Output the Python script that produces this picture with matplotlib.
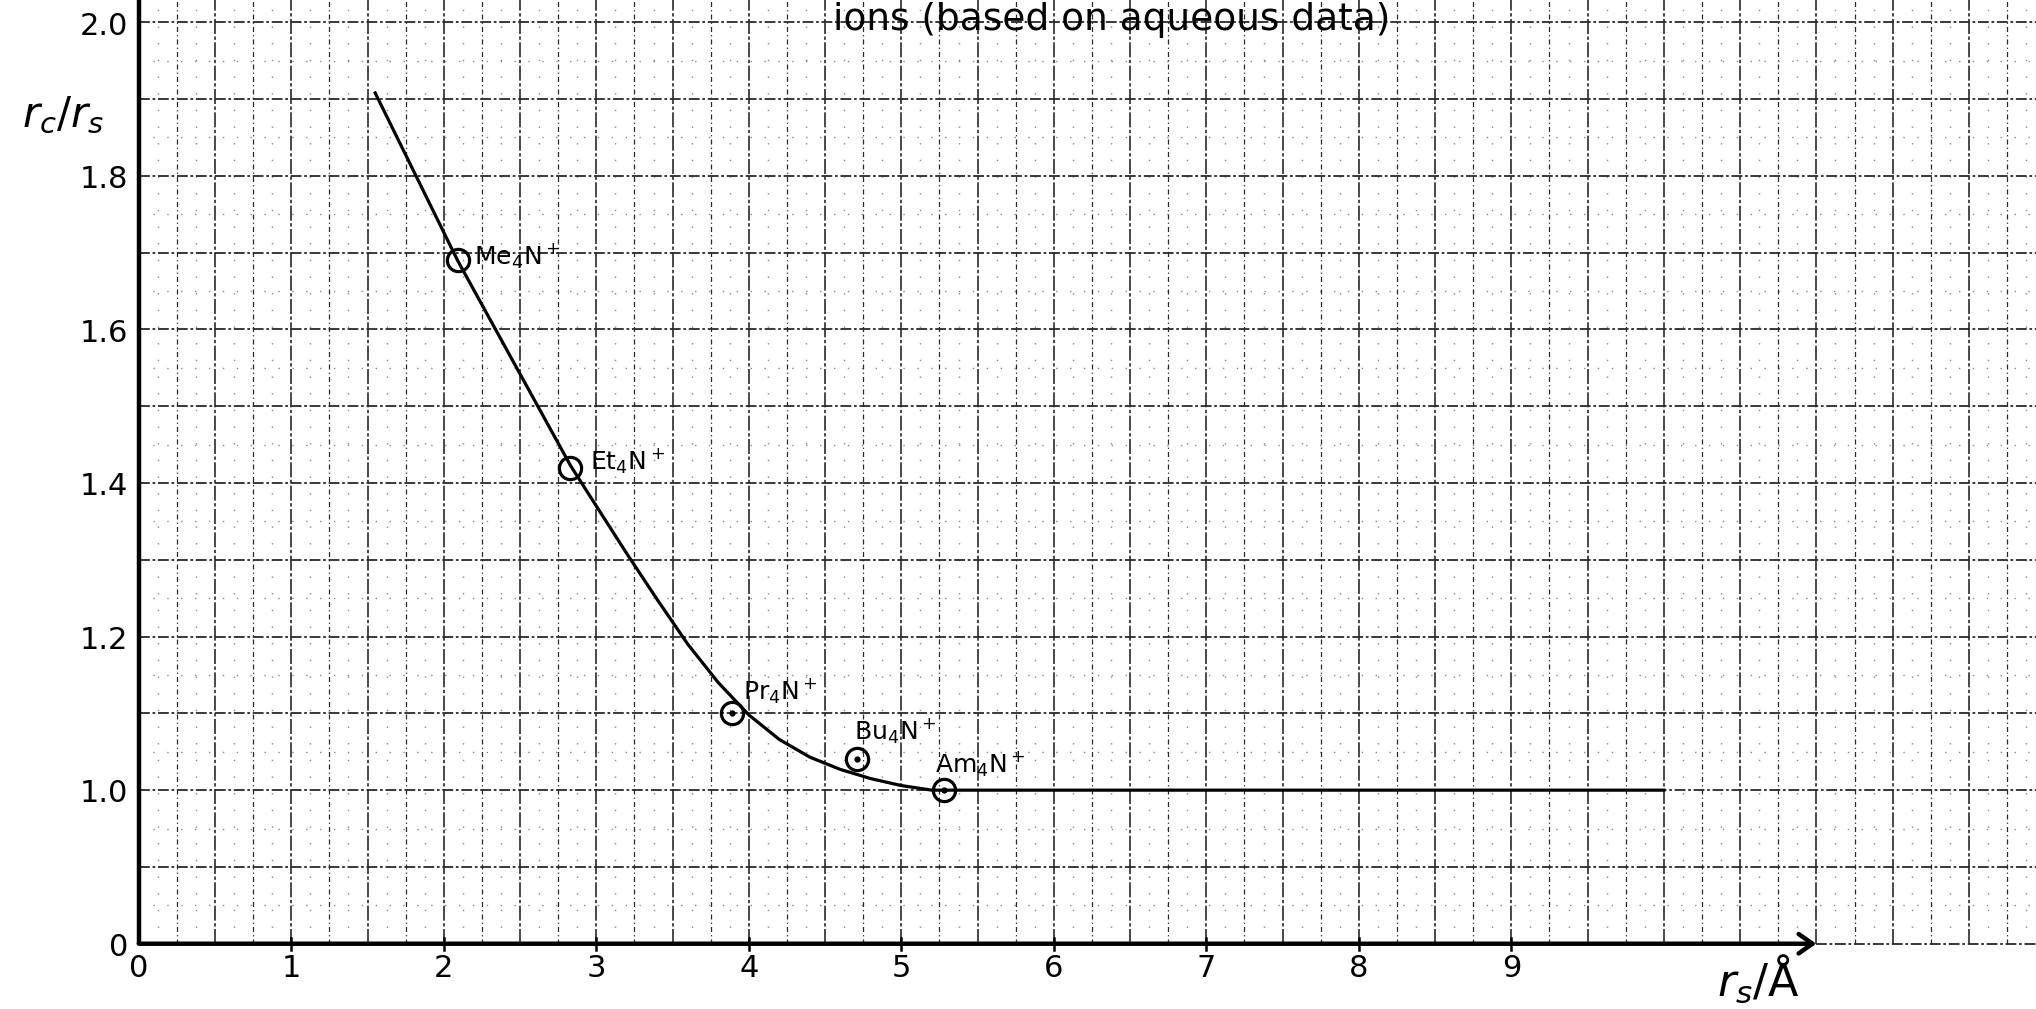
import matplotlib
matplotlib.use("Agg")
import matplotlib.pyplot as plt
import numpy as np

plt.rcParams["font.family"] = ["DejaVu Sans"]

# measured ions (r_s in Angstrom, r_c/r_s)
ions = [r"$\mathrm{Me_4N^+}$", r"$\mathrm{Et_4N^+}$", r"$\mathrm{Pr_4N^+}$",
        r"$\mathrm{Bu_4N^+}$", r"$\mathrm{Am_4N^+}$"]
ion_rs = [2.09, 2.83, 3.89, 4.71, 5.28]
ion_ratio = [1.69, 1.42, 1.10, 1.04, 1.00]

# hand drawn curve, traced from the sheet
curve_rs = [1.55, 2.09, 2.45, 2.83, 3.0, 3.2, 3.4, 3.6, 3.8, 4.0,
            4.2, 4.4, 4.6, 4.8, 5.0, 5.2, 10.0]
curve_ratio = [1.908, 1.690, 1.560, 1.423, 1.370, 1.308, 1.248, 1.190, 1.140, 1.098,
               1.066, 1.043, 1.027, 1.015, 1.006, 1.000, 1.000]

xticks = [0, 1, 2, 3, 4, 5, 6, 7, 8, 9]
# y axis is broken: the "0" sits one grid step below 1.0
yticks = [0.8, 1.0, 1.2, 1.4, 1.6, 1.8, 2.0]
ytick_labels = ["0", "1.0", "1.2", "1.4", "1.6", "1.8", "2.0"]

fig = plt.figure(figsize=(20.36, 10.09), dpi=100)
ax = fig.add_axes([0, 0, 1, 1])
ax.set_xlim(-0.91, 12.44)
ax.set_ylim(0.715, 2.029)
ax.axis("off")

ink = "#2a2a2a"
ybase = yticks[0]
xend = 11.0

# graph paper
for xv in np.arange(0.125, 12.5, 0.125):
    k = int(round(xv / 0.125))
    if k % 4 == 0:
        ax.plot([xv, xv], [ybase, 2.1], color=ink, lw=1.2, ls=(0, (9, 1.5, 2, 1.5)), zorder=1)
    elif k % 2 == 0:
        ax.plot([xv, xv], [ybase, 2.1], color=ink, lw=0.9, ls=(0, (4, 2.5, 1, 2.5)), zorder=1)
    else:
        ax.plot([xv, xv], [ybase, 2.1], color=ink, lw=1.0, ls=(0, (1, 11)), alpha=0.55, zorder=1)
for yv in np.arange(0.85, 2.06, 0.05):
    k = int(round(yv / 0.05))
    if k % 2 == 0:
        ax.plot([0, 12.5], [yv, yv], color=ink, lw=1.3, ls=(0, (6, 1.5, 1.5, 1.5)), zorder=1)
    else:
        ax.plot([0, 12.5], [yv, yv], color=ink, lw=1.0, ls=(0, (1, 9)), alpha=0.55, zorder=1)
ax.plot([xend, 12.5], [ybase, ybase], color=ink, lw=1.3, ls=(0, (6, 1.5, 1.5, 1.5)), zorder=1)

# axes
ax.plot([0, 0], [ybase, 2.1], color="black", lw=3.2, zorder=3, solid_capstyle="butt")
ax.annotate("", xy=(xend, ybase), xytext=(0, ybase),
            arrowprops=dict(arrowstyle="->,head_length=0.5,head_width=0.35",
                            mutation_scale=20, lw=3.2, color="black",
                            shrinkA=0, shrinkB=0), zorder=3)
for xt in xticks[1:]:
    ax.plot([xt, xt], [ybase - 0.008, ybase + 0.008], color="black", lw=1.8, zorder=3)

for xt in xticks:
    ax.text(xt, 0.768, str(xt), ha="center", va="center", fontsize=22)
for yt, lab in zip(yticks, ytick_labels):
    ax.text(-0.07, yt - 0.005, lab, ha="right", va="center", fontsize=22)

ax.text(-0.50, 1.879, r"$r_c/r_s$", fontsize=30, ha="center", va="center")
ax.text(10.62, 0.755, r"$r_s/$Å", fontsize=32, ha="center", va="center")

# title, at the top edge of the sheet
fig.text(0.409, 1 - 30 / 1009, "ions (based on aqueous data)", fontsize=27,
         ha="left", va="baseline")

# curve and points
ax.plot(curve_rs, curve_ratio, color="black", lw=2.3, zorder=4)
ax.plot(ion_rs, ion_ratio, ls="none", marker="o", ms=16, mfc="none",
        mec="black", mew=2.3, zorder=5)
dotted = [False, False, True, True, True]
for xr, yr, d in zip(ion_rs, ion_ratio, dotted):
    if d:
        ax.plot(xr, yr, marker="o", ms=3.5, color="black", ls="none", zorder=6)

label_offsets = [(16, 4), (20, 6), (11, 22), (-3, 28), (-9, 26)]
for name, xr, yr, off in zip(ions, ion_rs, ion_ratio, label_offsets):
    ax.annotate(name, (xr, yr), xytext=off, textcoords="offset pixels",
                fontsize=18, ha="left", va="center", zorder=6)

fig.savefig("out.png", dpi=100)
